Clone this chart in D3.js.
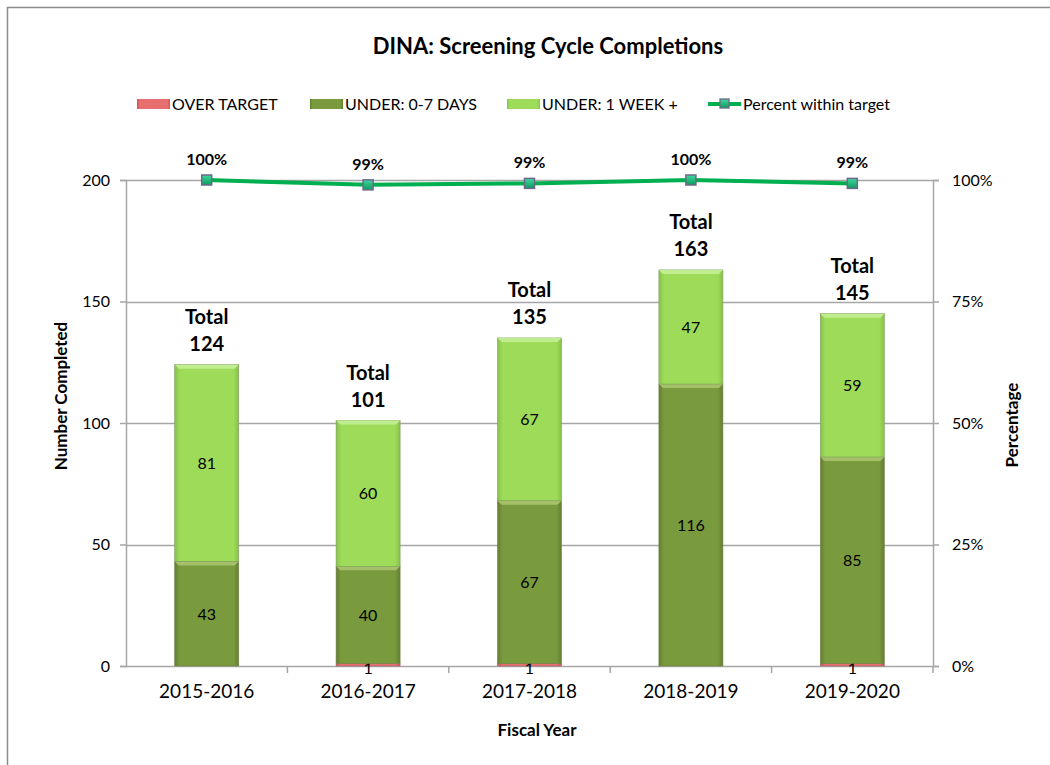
<!DOCTYPE html>
<html>
<head>
<meta charset="utf-8">
<script src="https://cdnjs.cloudflare.com/ajax/libs/d3/7.8.5/d3.min.js"></script>
<style>
  body { margin: 0; background: #fff; }
  text { font-family: Lato, "Open Sans", sans-serif; fill: #000; }
</style>
</head>
<body>
<script>
// chart data
var years = ["2015-2016", "2016-2017", "2017-2018", "2018-2019", "2019-2020"];
var overTarget = [0, 1, 1, 0, 1];
var under07 = [43, 40, 67, 116, 85];
var under1wk = [81, 60, 67, 47, 59];
var totals = [124, 101, 135, 163, 145];
var pctWithin = [100, 99.0, 99.3, 100, 99.3];
var pctLabels = ["100%", "99%", "99%", "100%", "99%"];
var leftTicks = [0, 50, 100, 150, 200];
var rightTicks = [0, 25, 50, 75, 100];

var W = 1050, H = 765;
var plotL = 126, plotR = 933, plotT = 180, plotB = 666;

var svg = d3.select("body").append("svg")
            .attr("width", W)
            .attr("height", H);

// gradients for the bevelled bars
var defs = svg.append("defs");
function hGrad(id, c1, c2) {
    var g = defs.append("linearGradient").attr("id", id)
                .attr("x1", "0%").attr("x2", "100%").attr("y1", "0%").attr("y2", "0%");
    g.append("stop").attr("offset", "0%").attr("stop-color", c2);
    g.append("stop").attr("offset", "8%").attr("stop-color", c1);
    g.append("stop").attr("offset", "92%").attr("stop-color", c1);
    g.append("stop").attr("offset", "100%").attr("stop-color", c2);
}
hGrad("gDark", "#7a9a3e", "#637f30");
hGrad("gLight", "#9ddb59", "#86c24a");
hGrad("gRed", "#e86f6f", "#c95555");
var mg = defs.append("linearGradient").attr("id", "gMark")
             .attr("x1", "0%").attr("x2", "0%").attr("y1", "0%").attr("y2", "100%");
mg.append("stop").attr("offset", "0%").attr("stop-color", "#3fd9a0");
mg.append("stop").attr("offset", "100%").attr("stop-color", "#0e9a5c");

// outer frame
svg.append("path")
   .attr("d", "M7.5," + (H + 2) + "V7.5H" + (W + 2))
   .attr("fill", "none")
   .attr("stroke", "#8c8c8c")
   .attr("stroke-width", 1.5);

// scales
var x = d3.scaleBand().domain(years).range([plotL, plotR]);
var yL = d3.scaleLinear().domain([0, 200]).range([plotB, plotT]);
var yR = d3.scaleLinear().domain([0, 100]).range([plotB, plotT]);
var barW = 64;

// gridlines
svg.append("g").selectAll("line")
   .data(leftTicks.filter(function(d){ return d > 0; }))
   .enter().append("line")
   .attr("x1", plotL).attr("x2", plotR)
   .attr("y1", function(d){ return Math.round(yL(d)) + 0.5; })
   .attr("y2", function(d){ return Math.round(yL(d)) + 0.5; })
   .attr("stroke", "#a6a6a6").attr("stroke-width", 1.5);

// axes
var axL = svg.append("g")
    .attr("transform", "translate(" + plotL + ",0)")
    .call(d3.axisLeft(yL).tickValues(leftTicks).tickSize(6).tickPadding(10));
var axR = svg.append("g")
    .attr("transform", "translate(" + plotR + ",0)")
    .call(d3.axisRight(yR).tickValues(rightTicks).tickSize(6).tickPadding(13)
          .tickFormat(function(d){ return d + "%"; }));
var axB = svg.append("g")
    .attr("transform", "translate(0," + plotB + ")")
    .call(d3.axisBottom(x).tickSize(0).tickPadding(19));

[axL, axR, axB].forEach(function(a) {
    a.select(".domain").attr("stroke", "#a6a6a6").attr("stroke-width", 1.5);
    a.selectAll(".tick line").attr("stroke", "#a6a6a6").attr("stroke-width", 1.5);
    a.selectAll("text").style("font-size", "16px").attr("fill", "#000");
});
axB.select(".domain").attr("d", "M" + plotL + ",0.5H" + plotR);
axB.selectAll("text").style("font-size", "19px");

// category separator ticks under the x axis
svg.append("g").selectAll("line")
   .data(years.slice(1).concat(["end"]))
   .enter().append("line")
   .attr("x1", function(d, i){ return i < years.length - 1 ? x(d) : plotR; })
   .attr("x2", function(d, i){ return i < years.length - 1 ? x(d) : plotR; })
   .attr("y1", plotB).attr("y2", plotB + 7)
   .attr("stroke", "#a6a6a6").attr("stroke-width", 1.5);

// stacked bars
var series = [
    { name: "OVER TARGET", vals: overTarget, fill: "url(#gRed)", hi: "#f4a3a3" },
    { name: "UNDER: 0-7 DAYS", vals: under07, fill: "url(#gDark)", hi: "#a9c46e" },
    { name: "UNDER: 1 WEEK +", vals: under1wk, fill: "url(#gLight)", hi: "#c4ef95" }
];
var base = years.map(function(){ return 0; });
var barG = svg.append("g");
series.forEach(function(s, si) {
    years.forEach(function(yr, i) {
        var v = s.vals[i];
        if (v <= 0) return;
        var y0 = yL(base[i]), y1 = yL(base[i] + v);
        var bx = x(yr) + x.bandwidth() / 2 - barW / 2;
        barG.append("rect")
            .attr("x", bx).attr("y", y1)
            .attr("width", barW).attr("height", Math.max(y0 - y1, 1.5))
            .attr("fill", s.fill)
            .attr("stroke", d3.color(s.hi).darker(1.2)).attr("stroke-width", 0.6);
        if (si > 0) {
            // bevel highlight on top
            barG.append("path")
                .attr("d", "M" + bx + "," + y1 + "h" + barW + "l-4,4h" + (-(barW - 8)) + "z")
                .attr("fill", s.hi).attr("opacity", 0.9);
        }
        var lbl = barG.append("text")
            .attr("x", bx + barW / 2)
            .attr("text-anchor", "middle")
            .style("font-size", "16px")
            .text(v);
        if (si === 0) lbl.attr("y", plotB + 8);
        else lbl.attr("y", (y0 + y1) / 2 + 6);
        base[i] += v;
    });
});

// total labels
var totG = svg.append("g").selectAll("text")
    .data(years).enter().append("text")
    .attr("x", function(d){ return x(d) + x.bandwidth() / 2; })
    .attr("text-anchor", "middle")
    .style("font-size", "20px").style("font-weight", "bold");
totG.append("tspan")
    .attr("x", function(d){ return x(d) + x.bandwidth() / 2; })
    .attr("y", function(d, i){ return yL(totals[i]) - 41; })
    .text("Total");
totG.append("tspan")
    .attr("x", function(d){ return x(d) + x.bandwidth() / 2; })
    .attr("y", function(d, i){ return yL(totals[i]) - 14; })
    .text(function(d, i){ return totals[i]; });

// percent line
var line = d3.line()
    .x(function(d, i){ return x(years[i]) + x.bandwidth() / 2; })
    .y(function(d){ return yR(d); });
svg.append("path")
   .datum(pctWithin)
   .attr("d", line)
   .attr("fill", "none")
   .attr("stroke", "#00b050")
   .attr("stroke-width", 4);
svg.append("g").selectAll("rect")
   .data(pctWithin).enter().append("rect")
   .attr("x", function(d, i){ return x(years[i]) + x.bandwidth() / 2 - 5; })
   .attr("y", function(d){ return yR(d) - 5; })
   .attr("width", 10).attr("height", 10)
   .attr("fill", "url(#gMark)")
   .attr("stroke", "#6a6a8a").attr("stroke-width", 1.5);
svg.append("g").selectAll("text")
   .data(pctWithin).enter().append("text")
   .attr("x", function(d, i){ return x(years[i]) + x.bandwidth() / 2; })
   .attr("y", function(d){ return yR(d) - 15; })
   .attr("text-anchor", "middle")
   .style("font-size", "16px").style("font-weight", "bold")
   .text(function(d, i){ return pctLabels[i]; });

// title
svg.append("text")
   .attr("x", 548).attr("y", 54)
   .attr("text-anchor", "middle")
   .style("font-size", "22px").style("font-weight", "bold")
   .text("DINA: Screening Cycle Completions");

// axis titles
svg.append("text")
   .attr("transform", "translate(67," + ((plotT + plotB) / 2 - 27) + ") rotate(-90)")
   .attr("text-anchor", "middle")
   .style("font-size", "17px").style("font-weight", "bold")
   .text("Number Completed");
svg.append("text")
   .attr("transform", "translate(1018," + ((plotT + plotB) / 2 + 2) + ") rotate(-90)")
   .attr("text-anchor", "middle")
   .style("font-size", "17px").style("font-weight", "bold")
   .text("Percentage");
svg.append("text")
   .attr("x", 537).attr("y", 736)
   .attr("text-anchor", "middle")
   .style("font-size", "17px").style("font-weight", "bold")
   .text("Fiscal Year");

// legend
var legendX = [137, 310, 507, 708];
var legendNames = ["OVER TARGET", "UNDER: 0-7 DAYS", "UNDER: 1 WEEK +", "Percent within target"];
var legFills = ["url(#gRed)", "url(#gDark)", "url(#gLight)"];
var leg = svg.append("g");
legendNames.forEach(function(n, i) {
    var lx = legendX[i], ly = 104;
    if (i < 3) {
        leg.append("rect")
           .attr("x", lx).attr("y", ly - 5)
           .attr("width", 33).attr("height", 10)
           .attr("fill", legFills[i]);
    } else {
        leg.append("line")
           .attr("x1", lx).attr("x2", lx + 33)
           .attr("y1", ly).attr("y2", ly)
           .attr("stroke", "#00b050").attr("stroke-width", 4);
        leg.append("rect")
           .attr("x", lx + 12).attr("y", ly - 5)
           .attr("width", 9).attr("height", 9)
           .attr("fill", "url(#gMark)")
           .attr("stroke", "#6a6a8a").attr("stroke-width", 1.3);
    }
    leg.append("text")
       .attr("x", lx + 35).attr("y", ly + 6)
       .style("font-size", "16px")
       .text(n);
});
</script>
</body>
</html>
